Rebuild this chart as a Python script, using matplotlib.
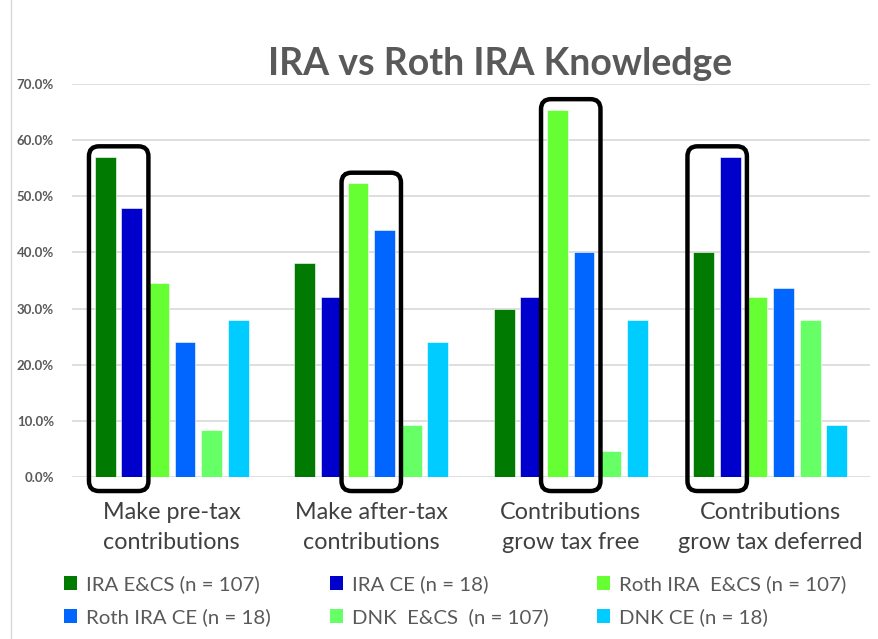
import numpy as np
import matplotlib.pyplot as plt
from matplotlib.patches import FancyBboxPatch, Patch
from matplotlib.lines import Line2D

plt.rcParams['font.family'] = ['Lato', 'DejaVu Sans']

# ------ data ------
categories = ["Make pre-tax\ncontributions", "Make after-tax\ncontributions",
              "Contributions\ngrow tax free", "Contributions\ngrow tax deferred"]
series_names = ["IRA E&CS (n = 107)", "IRA CE (n = 18)", "Roth IRA  E&CS (n = 107)",
                "Roth IRA CE (n = 18)", "DNK  E&CS  (n = 107)", "DNK CE (n = 18)"]
ira_ecs = [57.0, 38.2, 29.9, 40.0]
ira_ce = [48.0, 32.0, 32.0, 57.0]
roth_ecs = [34.5, 52.3, 65.4, 32.0]
roth_ce = [24.0, 44.0, 40.0, 33.6]
dnk_ecs = [8.3, 9.2, 4.6, 28.0]
dnk_ce = [28.0, 24.0, 28.0, 9.2]
colors = ["#007A00", "#0000CC", "#66FF33", "#0066FF", "#66FF66", "#00CCFF"]
# which two series get the black box in each category
highlight = [(0, 1), (2, 3), (2, 3), (0, 1)]

values = np.array([ira_ecs, ira_ce, roth_ecs, roth_ce, dnk_ecs, dnk_ce]) / 100

# ------ plotting ------
fig = plt.figure(figsize=(8.79, 6.39), dpi=100)
ax = fig.add_axes([72 / 879, 1 - 477 / 639, 798 / 879, 393 / 639])

x = np.arange(len(categories))
step = 0.133
width = 0.105
offsets = (np.arange(6) - 2.5) * step

for i in range(6):
    ax.bar(x + offsets[i], values[i], width, color=colors[i], zorder=2,
           edgecolor="white", linewidth=0.4)

# rounded black boxes around the highlighted pairs
for c, (a, b) in enumerate(highlight):
    x0 = x[c] + offsets[a] - width / 2 - 0.03
    x1 = x[c] + offsets[b] + width / 2 + 0.03
    top = max(values[a][c], values[b][c]) + 0.019
    bot = -0.025
    box = FancyBboxPatch((x0, bot), x1 - x0, top - bot,
                         boxstyle="round,pad=0,rounding_size=0.05",
                         mutation_aspect=0.3556, fill=False,
                         edgecolor="black", linewidth=3.2, zorder=3, clip_on=False)
    ax.add_patch(box)

ax.set_xlim(-0.5, 3.5)
ax.set_ylim(0, 0.7)
ax.set_yticks(np.arange(0, 0.71, 0.1))
ax.set_yticklabels(["%.1f%%" % (v * 100) for v in np.arange(0, 0.71, 0.1)],
                   fontsize=9.5, fontweight="bold", color="#595959")
ax.tick_params(axis="y", length=0, pad=13)
ax.set_xticks(x)
ax.set_xticklabels(categories, fontsize=16.8, color="#404040", linespacing=1.55)
ax.tick_params(axis="x", length=0, pad=18)
ax.grid(axis="y", color="#D9D9D9", linewidth=1.2, zorder=0)
ax.set_axisbelow(True)
for s in ax.spines.values():
    s.set_visible(False)

fig.text(500 / 879, 1 - 64 / 639, "IRA vs Roth IRA Knowledge", ha="center", va="center",
         fontsize=27, fontweight="bold", color="#595959")

# legend: three columns of two entries
col_x = [64 / 879, 330 / 879, 597 / 879]
order = [(0, 3), (1, 4), (2, 5)]
for cx, pair in zip(col_x, order):
    handles = [Patch(facecolor=colors[k], edgecolor="none") for k in pair]
    labels = [series_names[k] for k in pair]
    fig.legend(handles, labels, loc="upper left", bbox_to_anchor=(cx, 1 - 575 / 639),
               frameon=False, fontsize=14.7, labelcolor="#595959",
               handlelength=0.65, handleheight=0.65, handletextpad=0.45,
               labelspacing=0.75, borderaxespad=0, borderpad=0)

fig.add_artist(Line2D([11 / 879, 11 / 879], [0, 1], color="#D9D9D9", linewidth=1))

fig.savefig("out.png", dpi=100)
